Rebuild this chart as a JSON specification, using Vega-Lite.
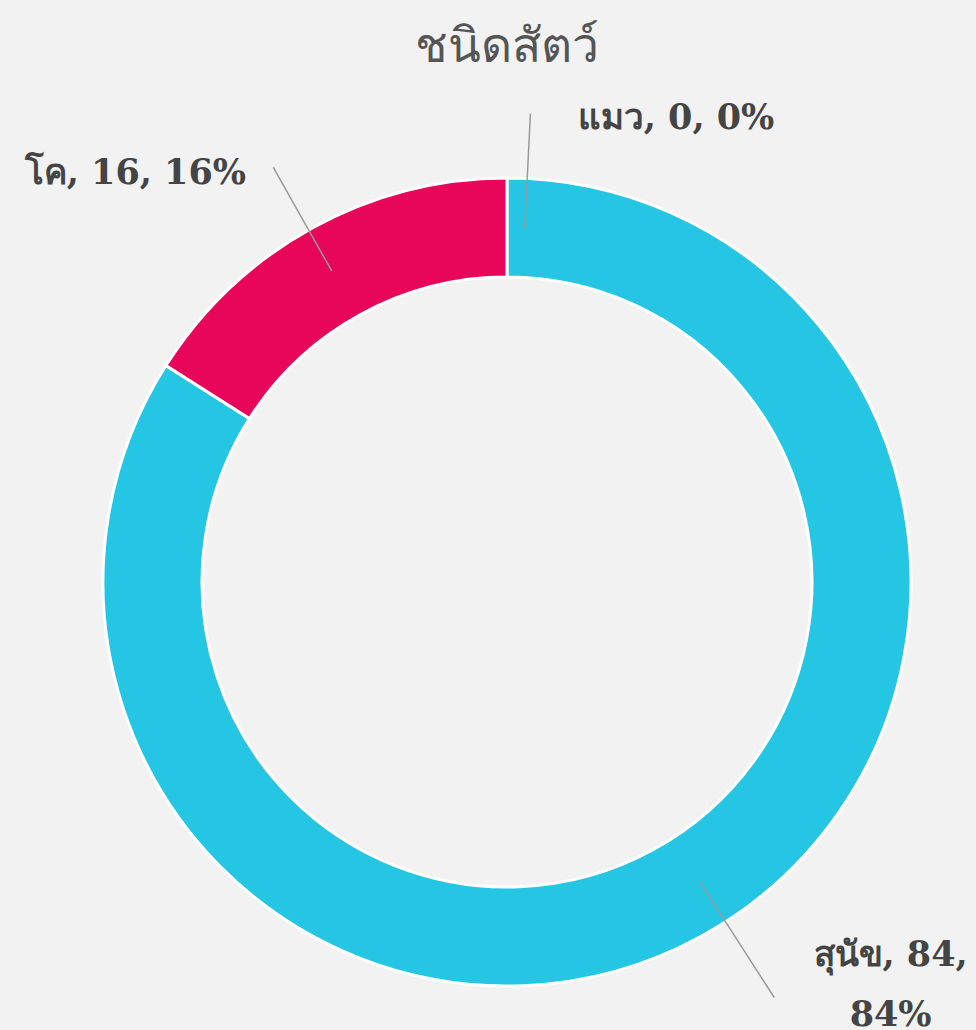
{
  "$schema": "https://vega.github.io/schema/vega-lite/v6.json",
  "autosize": "none",
  "width": 938,
  "height": 896,
  "padding": {"left": 38, "top": 134, "right": 0, "bottom": 0},
  "background": "#F2F2F2",
  "title": {
    "text": "ชนิดสัตว์",
    "fontSize": 48,
    "fontWeight": "normal",
    "color": "#555555",
    "anchor": "middle",
    "baseline": "alphabetic",
    "offset": 35,
    "dy": 44,
    "font": "DejaVu Serif"
  },
  "data": {
    "values": [
      {"animal": "แมว", "count": 0, "ord": 1, "label": "แมว, 0, 0%"},
      {"animal": "สุนัข", "count": 84, "ord": 2, "label": "สุนัข, 84,\n84%"},
      {"animal": "โค", "count": 16, "ord": 3, "label": "โค, 16, 16%"}
    ]
  },
  "encoding": {
    "theta": {"field": "count", "type": "quantitative", "stack": true},
    "order": {"field": "ord", "type": "quantitative"}
  },
  "layer": [
    {
      "mark": {"type": "arc", "innerRadius": 305, "outerRadius": 404, "stroke": "#ffffff", "strokeWidth": 3},
      "encoding": {
        "color": {
          "field": "animal",
          "type": "nominal",
          "scale": {"domain": ["แมว", "สุนัข", "โค"], "range": ["#7cb5ec", "#25C6E3", "#E7065A"]},
          "legend": null
        }
      }
    },
    {
      "transform": [{"filter": "datum.animal === 'โค'"}],
      "mark": {"type": "arc", "innerRadius": 357, "outerRadius": 476, "fill": null, "stroke": "#999999", "strokeWidth": 1.5},
      "encoding": {"theta": {"value": 5.77}, "theta2": {"value": 5.77}}
    },
    {
      "transform": [{"filter": "datum.animal === 'สุนัข'"}],
      "mark": {"type": "arc", "innerRadius": 356, "outerRadius": 494, "fill": null, "stroke": "#999999", "strokeWidth": 1.5},
      "encoding": {"theta": {"value": 2.57}, "theta2": {"value": 2.57}}
    },
    {
      "transform": [{"filter": "datum.animal === 'แมว'"}],
      "mark": {"type": "arc", "innerRadius": 354, "outerRadius": 469, "fill": null, "stroke": "#999999", "strokeWidth": 1.5},
      "encoding": {"theta": {"value": 0.05}, "theta2": {"value": 0.05}}
    },
    {
      "mark": {"type": "text", "radius": 404, "align": "center", "baseline": "alphabetic", "dx": 169, "dy": -49, "fontSize": 35, "fontWeight": "bold", "font": "DejaVu Serif", "color": "#444444"},
      "encoding": {
        "text": {"condition": {"test": "datum.animal === 'แมว'", "field": "label"}, "value": ""}
      }
    },
    {
      "mark": {"type": "text", "radius": 404, "align": "center", "baseline": "alphabetic", "dx": -177, "dy": -44, "fontSize": 35, "fontWeight": "bold", "font": "DejaVu Serif", "color": "#444444"},
      "encoding": {
        "text": {"condition": {"test": "datum.animal === 'โค'", "field": "label"}, "value": ""}
      }
    },
    {
      "mark": {"type": "text", "radius": 404, "align": "center", "baseline": "alphabetic", "dx": 189, "dy": 30, "lineBreak": "\n", "lineHeight": 60, "fontSize": 35, "fontWeight": "bold", "font": "DejaVu Serif", "color": "#444444"},
      "encoding": {
        "text": {"condition": {"test": "datum.animal === 'สุนัข'", "field": "label"}, "value": ""}
      }
    }
  ],
  "config": {"view": {"stroke": null}}
}
